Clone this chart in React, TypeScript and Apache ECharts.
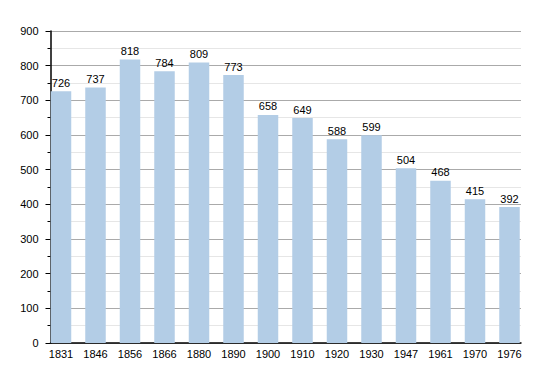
import React, { useEffect, useRef } from "react";
import * as echarts from "echarts";

const years = ["1831", "1846", "1856", "1866", "1880", "1890", "1900", "1910", "1920", "1930", "1947", "1961", "1970", "1976"];
const population = [726, 737, 818, 784, 809, 773, 658, 649, 588, 599, 504, 468, 415, 392];
const yTicks = { min: 0, max: 900, interval: 100 };

export default function App() {
  const ref = useRef<HTMLDivElement>(null);
  useEffect(() => {
    if (!ref.current) return;
    const chart = echarts.init(ref.current, undefined, { renderer: "svg" });
    const font = "Liberation Sans, Arial, sans-serif";
    chart.setOption({
      animation: false,
      grid: [
        { left: 50.5, right: 29, top: 31, bottom: 30 },
        { left: 43.75, right: 23.25, top: 31, bottom: 30 },
      ],
      xAxis: [
        {
          gridIndex: 0,
          type: "value",
          min: 0,
          max: 1,
          axisLine: { show: true, lineStyle: { color: "#000", width: 1.5 } },
          axisTick: { show: false },
          axisLabel: { show: false },
          splitLine: { show: false },
        },
        {
          gridIndex: 1,
          type: "category",
          data: years,
          axisLine: { show: false },
          axisTick: { show: false },
          axisLabel: { color: "#000", fontSize: 11, fontFamily: font, margin: 5 },
        },
      ],
      yAxis: [
        {
          gridIndex: 0,
          type: "value",
          min: yTicks.min,
          max: yTicks.max,
          interval: yTicks.interval,
          axisLine: { show: true, lineStyle: { color: "#000", width: 1.5 } },
          axisTick: { show: true, length: 5, lineStyle: { color: "#000" } },
          minorTick: { show: true, splitNumber: 2, length: 3, lineStyle: { color: "#000" } },
          axisLabel: { color: "#000", fontSize: 11, fontFamily: font, margin: 12 },
          splitLine: { show: true, lineStyle: { color: "#aaaaaa", width: 1 } },
          minorSplitLine: { show: true, lineStyle: { color: "#e6e6e6", width: 1 } },
        },
        {
          gridIndex: 1,
          type: "value",
          min: yTicks.min,
          max: yTicks.max,
          interval: yTicks.interval,
          axisLine: { show: false },
          axisTick: { show: false },
          axisLabel: { show: false },
          splitLine: { show: false },
        },
      ],
      series: [
        {
          type: "bar",
          xAxisIndex: 1,
          yAxisIndex: 1,
          data: population,
          barWidth: 20.5,
          itemStyle: { color: "#b3cde6" },
          label: {
            show: true,
            position: "top",
            distance: 3,
            color: "#000",
            fontSize: 11,
            fontFamily: font,
          },
        },
      ],
    });
    return () => chart.dispose();
  }, []);
  return <div ref={ref} style={{ width: 550, height: 373, position: "absolute", left: 0, top: 0 }} />;
}
